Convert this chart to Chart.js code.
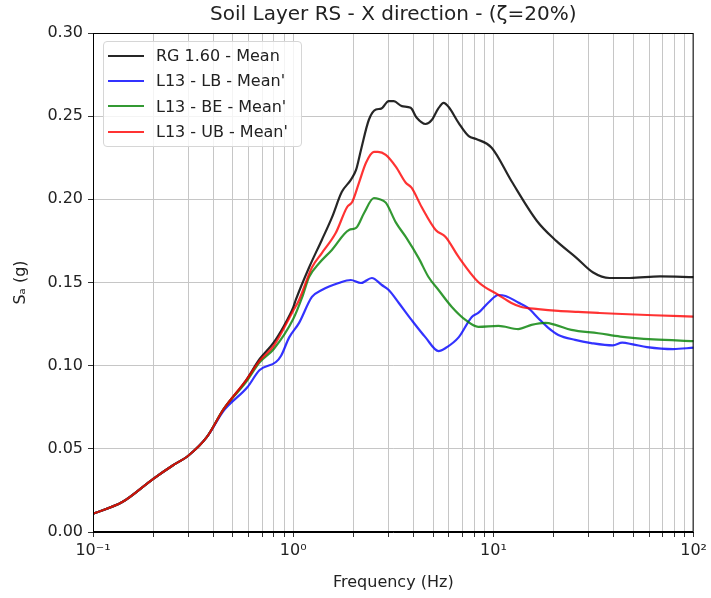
<!DOCTYPE html>
<html>
<head>
<meta charset="utf-8">
<script src="https://cdn.jsdelivr.net/npm/chart.js@4/dist/chart.umd.min.js"></script>
<style>
  body { margin: 0; background: #fff; }
  #wrap { position: relative; width: 711px; height: 598px; }
  #legend {
    position: absolute; left: 103px; top: 41px; width: 199px; height: 106px;
    border: 1px solid #d6d6d6; border-radius: 4px; background: rgba(255,255,255,0.8);
    font: 16px "DejaVu Sans", sans-serif; color: #222; box-sizing: border-box; padding-top: 1px;
  }
  .row { display: flex; align-items: center; height: 25.3px; }
  .sw { width: 36px; height: 0; border-top: 2.5px solid; margin: 0 12px 0 4px; }
</style>
</head>
<body>
<div id="wrap">
  <canvas id="c" width="711" height="598"></canvas>
  <div id="legend"></div>
</div>
<script>
// shared low-frequency part (all four curves coincide)
const lowFreq = [0.1, 0.14, 0.2, 0.25, 0.3, 0.37];
const lowSa = [0.011, 0.018, 0.032, 0.040, 0.046, 0.057];

// RG 1.60 - Mean
const rgFreq = [0.45, 0.58, 0.68, 0.8, 0.9, 1.0, 1.03, 1.2, 1.39, 1.56, 1.75, 1.94, 2.06, 2.18, 2.39, 2.59, 2.75, 3.0, 3.18, 3.49, 3.86, 4.14, 4.58, 4.92, 5.3, 5.64, 5.98, 6.7, 7.53, 8.2, 9.8, 12.3, 16.5, 20.6, 25.9, 31.5, 38, 48, 68, 100];
const rgSa = [0.074, 0.091, 0.104, 0.114, 0.124, 0.135, 0.1395, 0.159, 0.1756, 0.189, 0.2045, 0.2117, 0.2177, 0.2297, 0.248, 0.254, 0.2545, 0.259, 0.259, 0.256, 0.255, 0.249, 0.2453, 0.2477, 0.2545, 0.258, 0.2555, 0.246, 0.238, 0.2363, 0.231, 0.211, 0.187, 0.175, 0.165, 0.156, 0.1527, 0.1527, 0.1537, 0.1532];

// L13 - LB
const lbFreq = [0.45, 0.59, 0.68, 0.82, 0.87, 0.955, 1.07, 1.24, 1.39, 1.69, 1.94, 2.18, 2.47, 2.77, 3.0, 3.37, 3.9, 4.58, 5.32, 5.77, 6.7, 7.8, 8.4, 9.45, 10.6, 11.5, 13.3, 14.9, 16.7, 18.8, 21.1, 25.6, 30.8, 39.5, 44, 49.7, 58.5, 79, 100];
const lbSa = [0.073, 0.087, 0.0974, 0.1022, 0.106, 0.117, 0.1257, 0.1413, 0.1455, 0.1497, 0.1515, 0.1497, 0.1527, 0.1485, 0.1455, 0.1377, 0.1275, 0.117, 0.1088, 0.1106, 0.117, 0.1293, 0.1317, 0.138, 0.1425, 0.1419, 0.138, 0.1347, 0.1287, 0.1227, 0.1185, 0.1155, 0.1136, 0.1122, 0.1138, 0.1128, 0.1112, 0.110, 0.1108];

// L13 - BE
const beFreq = [0.45, 0.58, 0.68, 0.8, 1.0, 1.11, 1.2, 1.35, 1.56, 1.9, 2.06, 2.26, 2.53, 2.68, 2.9, 3.26, 3.65, 4.24, 4.74, 5.32, 6.2, 7.25, 8.4, 10.6, 13.3, 15.5, 18.2, 20.4, 24.5, 33.4, 43, 63, 100];
const beSa = [0.074, 0.090, 0.102, 0.110, 0.128, 0.1413, 0.1533, 0.1617, 0.1696, 0.1816, 0.1828, 0.1918, 0.2008, 0.2002, 0.198, 0.186, 0.1774, 0.1645, 0.1533, 0.1455, 0.1353, 0.1275, 0.1233, 0.1239, 0.122, 0.1245, 0.1257, 0.1245, 0.1215, 0.1195, 0.1175, 0.1158, 0.1148];

// L13 - UB
const ubFreq = [0.45, 0.58, 0.68, 0.8, 1.0, 1.07, 1.24, 1.39, 1.63, 1.86, 1.97, 2.13, 2.31, 2.53, 2.65, 2.9, 3.26, 3.65, 3.9, 4.38, 5.15, 5.77, 6.7, 8.4, 10.6, 12.3, 13.8, 16.7, 21.1, 26.5, 33.4, 41, 63, 100];
const ubSa = [0.074, 0.091, 0.103, 0.112, 0.133, 0.1395, 0.159, 0.1677, 0.1797, 0.1954, 0.1984, 0.2099, 0.222, 0.2285, 0.2285, 0.2267, 0.2195, 0.210, 0.207, 0.1954, 0.1816, 0.1774, 0.1654, 0.1503, 0.1425, 0.1377, 0.1353, 0.134, 0.1329, 0.1323, 0.1317, 0.1312, 0.1303, 0.1295];

const decades = [0.1, 1, 10, 100];
const decadeLabels = ["10\u207B\u00B9", "10\u2070", "10\u00B9", "10\u00B2"];
const yTicks = [0, 0.05, 0.10, 0.15, 0.20, 0.25, 0.30];

const pts = (fs, ys) => lowFreq.concat(fs).map((f, i) => ({ x: f, y: lowSa.concat(ys)[i] }));

const series = [
  { label: "RG 1.60 - Mean", color: "rgba(0,0,0,0.85)", data: pts(rgFreq, rgSa), order: 3 },
  { label: "L13 - LB - Mean'", color: "rgba(0,0,255,0.8)", data: pts(lbFreq, lbSa), order: 2 },
  { label: "L13 - BE - Mean'", color: "rgba(0,128,0,0.8)", data: pts(beFreq, beSa), order: 1 },
  { label: "L13 - UB - Mean'", color: "rgba(255,0,0,0.8)", data: pts(ubFreq, ubSa), order: 0 },
];

const FONT = "'DejaVu Sans', sans-serif";
Chart.defaults.font.family = FONT;
Chart.defaults.color = "#222";

// all minor + major log ticks, 0.1 .. 100
const logTicks = [];
for (const d of [0.1, 1, 10]) for (let k = 1; k < 10; k++) logTicks.push(+(k * d).toPrecision(3));
logTicks.push(100);

const frame = {
  id: "frame",
  afterDraw(chart) {
    const { ctx, chartArea: a } = chart;
    ctx.save();
    ctx.strokeStyle = "#000";
    ctx.lineWidth = 1;
    ctx.strokeRect(a.left + 0.5, a.top + 0.5, a.right - a.left - 1, a.bottom - a.top - 1);
    ctx.restore();
  },
};

new Chart(document.getElementById("c"), {
  type: "line",
  data: {
    datasets: series.map((s) => ({
      label: s.label,
      data: s.data,
      borderColor: s.color,
      backgroundColor: s.color,
      borderWidth: 2.2,
      pointRadius: 0,
      cubicInterpolationMode: "monotone",
      order: s.order,
    })),
  },
  options: {
    responsive: false,
    animation: false,
    devicePixelRatio: 1,
    layout: { padding: { left: 0, right: 14, top: 0, bottom: 0 } },
    plugins: {
      legend: { display: false },
      tooltip: { enabled: false },
      title: {
        display: true,
        fullSize: false,
        text: "Soil Layer RS - X direction - (\u03B6=20%)",
        font: { size: 20, weight: "normal" },
        color: "#222",
        padding: { top: 3, bottom: 6 },
      },
    },
    scales: {
      x: {
        type: "logarithmic",
        min: 0.1,
        max: 100,
        afterBuildTicks: (sc) => { sc.ticks = logTicks.map((v) => ({ value: v, major: decades.includes(v) })); },
        afterFit: (sc) => { sc.height = 66; },
        ticks: {
          autoSkip: false,
          maxRotation: 0,
          padding: 4,
          font: { size: 16 },
          callback: (v) => { const i = decades.indexOf(v); return i >= 0 ? decadeLabels[i] : ""; },
        },
        grid: { color: "#c6c6c6", lineWidth: 1, tickLength: 5, tickColor: "#333" },
        border: { color: "#000" },
        title: { display: true, text: "Frequency (Hz)", font: { size: 16 }, padding: { top: 0, bottom: 6 } },
      },
      y: {
        min: 0,
        max: 0.3,
        afterBuildTicks: (sc) => { sc.ticks = yTicks.map((v) => ({ value: v })); },
        afterFit: (sc) => { sc.width = 93; },
        ticks: { padding: 5, font: { size: 16 }, callback: (v) => v.toFixed(2) },
        grid: { color: "#c6c6c6", lineWidth: 1, tickLength: 5, tickColor: "#333" },
        border: { color: "#000" },
        title: { display: true, text: "S\u2090 (g)", font: { size: 16 }, padding: { top: 11, bottom: 0 } },
      },
    },
  },
  plugins: [frame],
});

// legend box drawn from the same series list
const leg = document.getElementById("legend");
for (const s of series) {
  const row = document.createElement("div");
  row.className = "row";
  row.innerHTML = `<span class="sw" style="border-color:${s.color}"></span><span>${s.label}</span>`;
  leg.appendChild(row);
}
</script>
</body>
</html>
